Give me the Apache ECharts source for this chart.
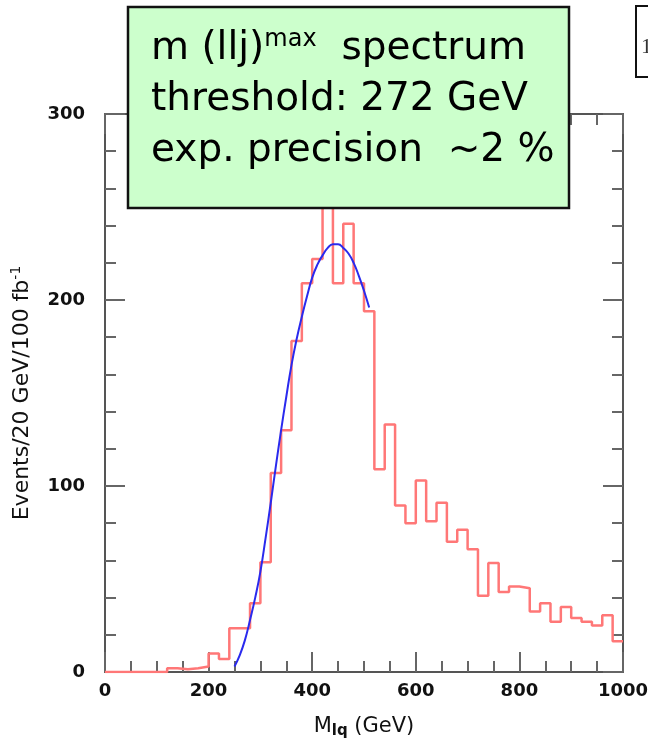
<!DOCTYPE html>
<html>
<head>
<meta charset="utf-8">
<script src="https://cdn.jsdelivr.net/npm/echarts@6/dist/echarts.min.js"></script>
<style>
html,body{margin:0;padding:0;background:#fff;}
#main{width:648px;height:747px;}
</style>
</head>
<body>
<div id="main"></div>
<script>
// histogram bins (left edges, GeV) and contents (Events / 20 GeV / 100 fb^-1)
const binLeft = [0,20,40,60,80,100,120,140,160,180,200,220,240,260,280,300,320,340,360,380,
  400,420,440,460,480,500,520,540,560,580,600,620,640,660,680,700,720,740,760,780,
  800,820,840,860,880,900,920,940,960,980];
const binRight = 1000;
const counts = [0,0,0,0,0,0,2,1.5,2,3,10,7,23.5,23.5,37,59,107,130,178,209,
  222,265,209,241,209,194,109,133,89.5,80,103,81,91,70,76.5,66,41,58.6,43,46,
  45,32.5,37,27,35,29,27,25,30.5,16.5];
// fit curve
const fitX = [250,260,270,280,290,300,310,320,330,340,350,360,370,380,390,400,410,420,430,440,450,460,470,480,490,500,510];
const fitY = [3,9,17,28,40,54,72,91,111,130,148,165,179,191,202,212,219,224,228,230,230,228,225,220,213,205,196];
const xTicks = [0,200,400,600,800,1000];
const yTicks = [0,100,200,300];

const histData = binLeft.map((x,i)=>[x,counts[i]]);
histData.push([binRight, counts[counts.length-1]]);
const fitData = fitX.map((x,i)=>[x,fitY[i]]);

const tickFont = {fontFamily:'DejaVu Sans',fontWeight:'bold',fontSize:18,color:'#111'};
const lineCol = '#555';
function xAx(pos, show){
  return {type:'value',position:pos,min:0,max:1000,interval:200,
    axisLine:{show:true,onZero:false,lineStyle:{color:lineCol,width:2}},
    axisTick:{show:true,inside:true,length:20,lineStyle:{color:'#666',width:2}},
    minorTick:{show:true,splitNumber:4,length:11,lineStyle:{color:'#666',width:2}},
    splitLine:{show:false},minorSplitLine:{show:false},
    axisLabel:Object.assign({show:show,margin:10,showMinLabel:true,showMaxLabel:true,
      formatter:v=>String(v)},tickFont)};
}
function yAx(pos, show){
  return {type:'value',position:pos,min:0,max:300,interval:100,
    axisLine:{show:true,onZero:false,lineStyle:{color:lineCol,width:2}},
    axisTick:{show:true,inside:true,length:20,lineStyle:{color:'#666',width:2}},
    minorTick:{show:true,splitNumber:5,length:11,lineStyle:{color:'#666',width:2}},
    splitLine:{show:false},minorSplitLine:{show:false},
    axisLabel:Object.assign({show:show,margin:20,formatter:v=>String(v)},tickFont)};
}
const xa0 = xAx('bottom', true);
xa0.name = '{m|M}{s|lq}{m| (GeV)}';
xa0.nameLocation = 'middle';
xa0.nameGap = 42;
xa0.nameTextStyle = {rich:{
  m:{fontFamily:'DejaVu Sans',fontSize:21,color:'#111'},
  s:{fontFamily:'DejaVu Sans',fontWeight:'bold',fontSize:15,color:'#111',padding:[10,0,0,0]}
}};
const ya0 = yAx('left', true);
ya0.name = 'Events/20 GeV/100 fb{sup|-1}';
ya0.nameLocation = 'middle';
ya0.nameGap = 70;
ya0.nameRotate = 90;
ya0.nameTextStyle = {fontFamily:'DejaVu Sans',fontSize:22,color:'#111',
  rich:{sup:{fontFamily:'DejaVu Sans',fontSize:14,color:'#111',padding:[0,0,12,0]}}};

const chart = echarts.init(document.getElementById('main'),null,{renderer:'canvas'});
chart.setOption({
  backgroundColor:'#fff',
  animation:false,
  grid:{left:105,right:25,top:114,bottom:75,containLabel:false,outerBoundsMode:'none'},
  xAxis:[xa0, xAx('top', false)],
  yAxis:[ya0, yAx('right', false)],
  series:[
    {type:'line',data:histData,step:'end',showSymbol:false,
     lineStyle:{color:'#ff7777',width:2.5},z:3},
    {type:'line',data:fitData,smooth:true,showSymbol:false,
     lineStyle:{color:'#2a2aee',width:2},z:4}
  ],
  graphic:[
    {type:'rect',z:100,shape:{x:128,y:7,width:441,height:201},
     style:{fill:'#ccffcc',stroke:'#111',lineWidth:2.5}},
    {type:'text',z:101,left:151,top:28,
     style:{text:'{a|m (llj)}{p|max}{a|  spectrum}\n{a|threshold: 272 GeV}\n{a|exp. precision  ~2 %}',
       rich:{
         a:{fontFamily:'DejaVu Sans',fontSize:39,lineHeight:51,fill:'#000'},
         p:{fontFamily:'DejaVu Sans',fontSize:24,lineHeight:51,fill:'#000',padding:[0,0,18,0]}
       }}},
    {type:'rect',z:100,shape:{x:636,y:6,width:40,height:71},
     style:{fill:'#fff',stroke:'#111',lineWidth:2}},
    {type:'text',z:101,left:641,top:36,
     style:{text:'1',fontFamily:'Liberation Serif',fontSize:22,fill:'#333'}}
  ]
});
</script>
</body>
</html>
